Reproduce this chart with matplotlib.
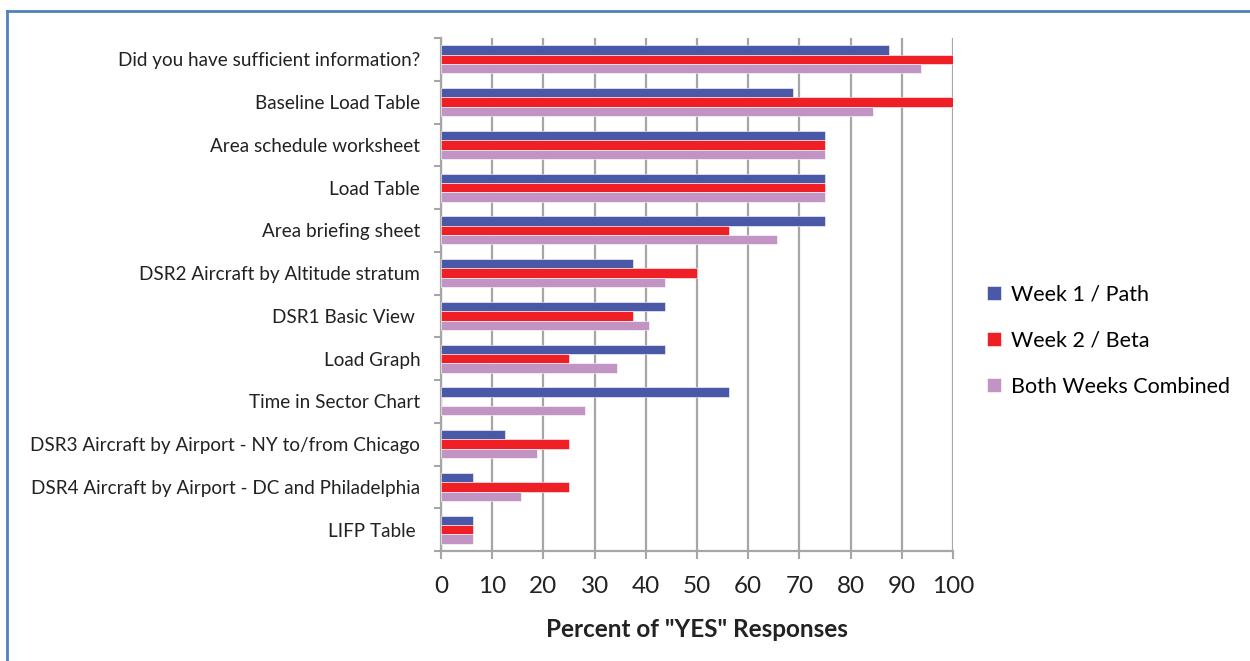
import numpy as np
import matplotlib.pyplot as plt
from matplotlib.lines import Line2D

plt.rcParams["font.family"] = ["Lato", "DejaVu Sans"]

categories = [
    "Did you have sufficient information?",
    "Baseline Load Table",
    "Area schedule worksheet",
    "Load Table",
    "Area briefing sheet",
    "DSR2 Aircraft by Altitude stratum",
    "DSR1 Basic View ",
    "Load Graph",
    "Time in Sector Chart",
    "DSR3 Aircraft by Airport - NY to/from Chicago",
    "DSR4 Aircraft by Airport - DC and Philadelphia",
    "LIFP Table ",
]
week1 = [87.5, 68.75, 75, 75, 75, 37.5, 43.75, 43.75, 56.25, 12.5, 6.25, 6.25]
week2 = [100, 100, 75, 75, 56.25, 50, 37.5, 25, 0, 25, 25, 6.25]
combined = [93.75, 84.4, 75, 75, 65.6, 43.75, 40.6, 34.4, 28.1, 18.75, 15.6, 6.25]
series_names = ["Week 1 / Path", "Week 2 / Beta", "Both Weeks Combined"]
colors = ["#4A59A7", "#EE2026", "#C294C4"]


def main():
    fig = plt.figure(figsize=(12.5, 6.61), dpi=100)
    ax = fig.add_axes([441 / 1250, 1 - 551 / 661, 512 / 1250, 513 / 661])

    y = np.arange(len(categories))
    h = 0.22
    for i, (vals, name, c) in enumerate(zip([week1, week2, combined], series_names, colors)):
        ax.barh(y + (i - 1) * h, vals, height=h, color=c, label=name,
                edgecolor="white", linewidth=0.4, zorder=3)

    ax.set_xlim(0, 100)
    ax.set_ylim(len(categories) - 0.5, -0.5)
    ax.set_xticks(np.arange(0, 101, 10))
    ax.tick_params(axis="x", labelsize=17.5, length=6, width=1.5, color="#A6A6A6",
                   labelcolor="#222222", pad=12)
    ax.set_yticks(y, categories)
    ax.set_yticks(np.arange(-0.5, len(categories), 1), minor=True)
    ax.tick_params(axis="y", which="major", length=0, labelsize=13.6, pad=15,
                   labelcolor="#222222")
    ax.tick_params(axis="y", which="minor", length=5, width=1.5, color="#A6A6A6")

    ax.grid(axis="x", color="#A6A6A6", linewidth=1.6, zorder=0)
    ax.set_axisbelow(True)
    for s in ["top", "right"]:
        ax.spines[s].set_visible(False)
    for s in ["left", "bottom"]:
        ax.spines[s].set_color("#A6A6A6")
        ax.spines[s].set_linewidth(1.6)

    ax.set_xlabel('Percent of "YES" Responses', fontsize=17.5, fontweight="bold",
                  color="#222222", labelpad=15)

    ax.legend(loc="center left", bbox_to_anchor=(1.05, 0.41), frameon=False,
              fontsize=15.5, handlelength=0.65, handleheight=0.65, handletextpad=0.45,
              labelspacing=1.2, borderaxespad=0)

    # blue frame around the chart
    fx, fy = 7 / 1250, 1 - 11 / 661
    fig.add_artist(Line2D([fx, fx], [0, fy], color="#4F81BD", linewidth=2))
    fig.add_artist(Line2D([fx, 1], [fy, fy], color="#4F81BD", linewidth=2))

    fig.savefig("out.png", dpi=100)
    plt.close(fig)


if __name__ == "__main__":
    main()
